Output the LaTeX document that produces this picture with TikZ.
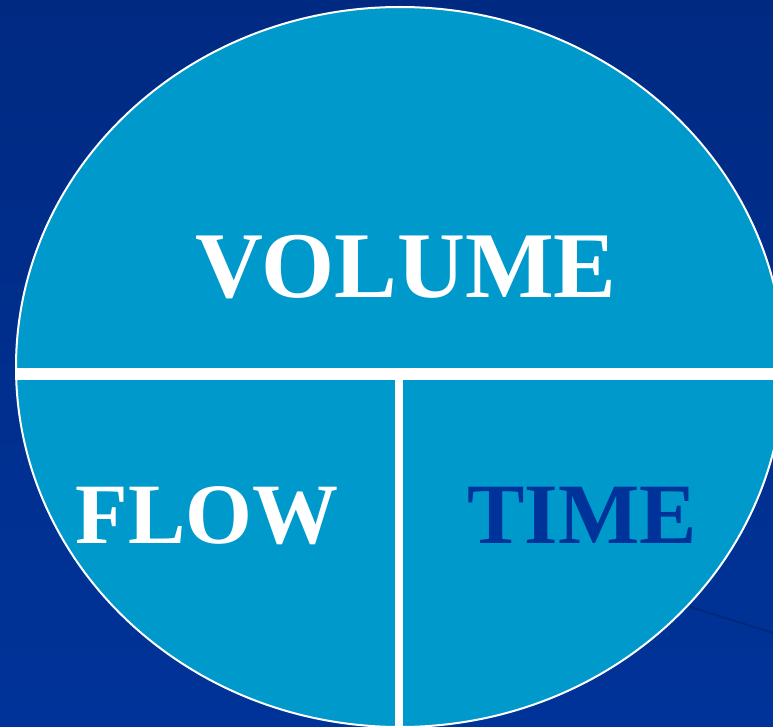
\documentclass[tikz,border=0pt]{standalone}
\usepackage{fontspec}
\setmainfont{Liberation Serif}

\definecolor{deepBlue}{RGB}{0,51,153}
\definecolor{topBlue}{RGB}{0,42,130}
\definecolor{discBlue}{RGB}{0,153,204}

\tikzstyle{partBig} = [font = \fontsize{94}{94}\selectfont\bfseries,
                       anchor = base,
                       inner sep = 0pt
                       ]
\tikzstyle{partSmall} = [font = \fontsize{86}{86}\selectfont\bfseries,
                         anchor = base,
                         inner sep = 0pt
                         ]
\tikzstyle{divider} = [draw = white, line cap = butt]

\begin{document}
\begin{tikzpicture}[x = 1pt, y = -1pt]

    %%% Backdrop
    \shade[top color = topBlue, bottom color = deepBlue]
        (0, 0) rectangle (773, 727);
    \useasboundingbox (0, 0) rectangle (773, 727);

    % faint stroke behind the disc
    \draw[line width = 2pt, topBlue!80!black, opacity = 0.5] (560, 566) -- (773, 633);

    %%% Disc
    \fill[discBlue] (400, 367) ellipse [x radius = 384, y radius = 360];

    % Dividers
    \coordinate (barL) at (10, 374);
    \coordinate (barR) at (773, 374);
    \coordinate (barT) at (399, 374);
    \coordinate (barB) at (399, 727);
    \begin{scope}
        \clip (400, 367) ellipse [x radius = 384, y radius = 360];
        \draw[divider, line width = 12pt] (barL) -- (barR);
        \draw[divider, line width = 7.5pt] (barT) -- (barB);
    \end{scope}

    \draw[white, line width = 2pt] (400, 367) ellipse [x radius = 384, y radius = 360];

    %%% Labels
    \node (volume) at (406, 297) [partBig, text = white]{VOLUME};
    \node (flow) at (207, 543) [partSmall, text = white]{FLOW};
    \node (time) at (582, 543) [partSmall, text = deepBlue]{TIME};

\end{tikzpicture}
\end{document}
